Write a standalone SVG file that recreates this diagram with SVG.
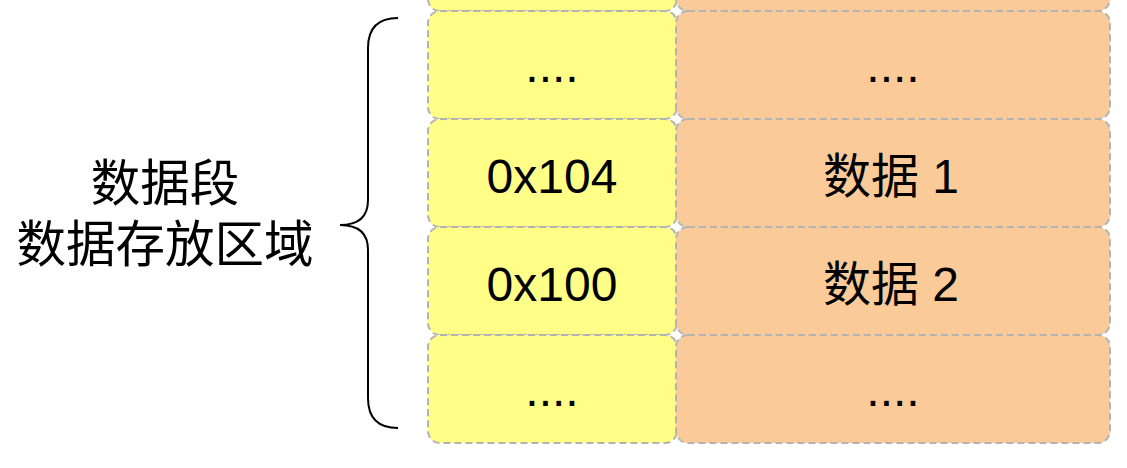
<svg xmlns="http://www.w3.org/2000/svg" width="1127" height="468" viewBox="0 0 1127 468">
<style>
.y{fill:#FFFF88;stroke:#B3B3B3;stroke-width:2;stroke-dasharray:7 4}
.o{fill:#FACB98;stroke:#B3B3B3;stroke-width:2;stroke-dasharray:7 4}
text{font-family:"Liberation Sans","Noto Sans CJK SC",sans-serif;font-size:48px;fill:#000;text-anchor:middle}
.l{font-size:49.5px}
</style>
<rect width="1127" height="468" fill="#fff"/>
<g id="row0"><rect class="y" x="428" y="-97" width="249" height="108" rx="12"/><rect class="o" x="676" y="-97" width="434" height="108" rx="12"/></g>
<g id="row1"><rect class="y" x="428" y="11" width="249" height="108" rx="12"/><rect class="o" x="676" y="11" width="434" height="108" rx="12"/>
<text x="552" y="82">....</text><text x="893" y="82">....</text></g>
<g id="row2"><rect class="y" x="428" y="119" width="249" height="108" rx="12"/><rect class="o" x="676" y="119" width="434" height="108" rx="12"/>
<text x="552" y="193">0x104</text><text x="891" y="193">数据 1</text></g>
<g id="row3"><rect class="y" x="428" y="227" width="249" height="108" rx="12"/><rect class="o" x="676" y="227" width="434" height="108" rx="12"/>
<text x="552" y="301">0x100</text><text x="891" y="301">数据 2</text></g>
<g id="row4"><rect class="y" x="428" y="335" width="249" height="108" rx="12"/><rect class="o" x="676" y="335" width="434" height="108" rx="12"/>
<text x="552" y="406">....</text><text x="893" y="406">....</text></g>
<g id="connectors"><path d="M398 18 Q368 18 368 48 L368 200 Q368 225 340 225 Q368 225 368 250 L368 398 Q368 428 398 428" fill="none" stroke="#000" stroke-width="2"/></g>
<g id="label"><text class="l" x="165" y="201">数据段</text><text class="l" x="165" y="262">数据存放区域</text></g>
</svg>
